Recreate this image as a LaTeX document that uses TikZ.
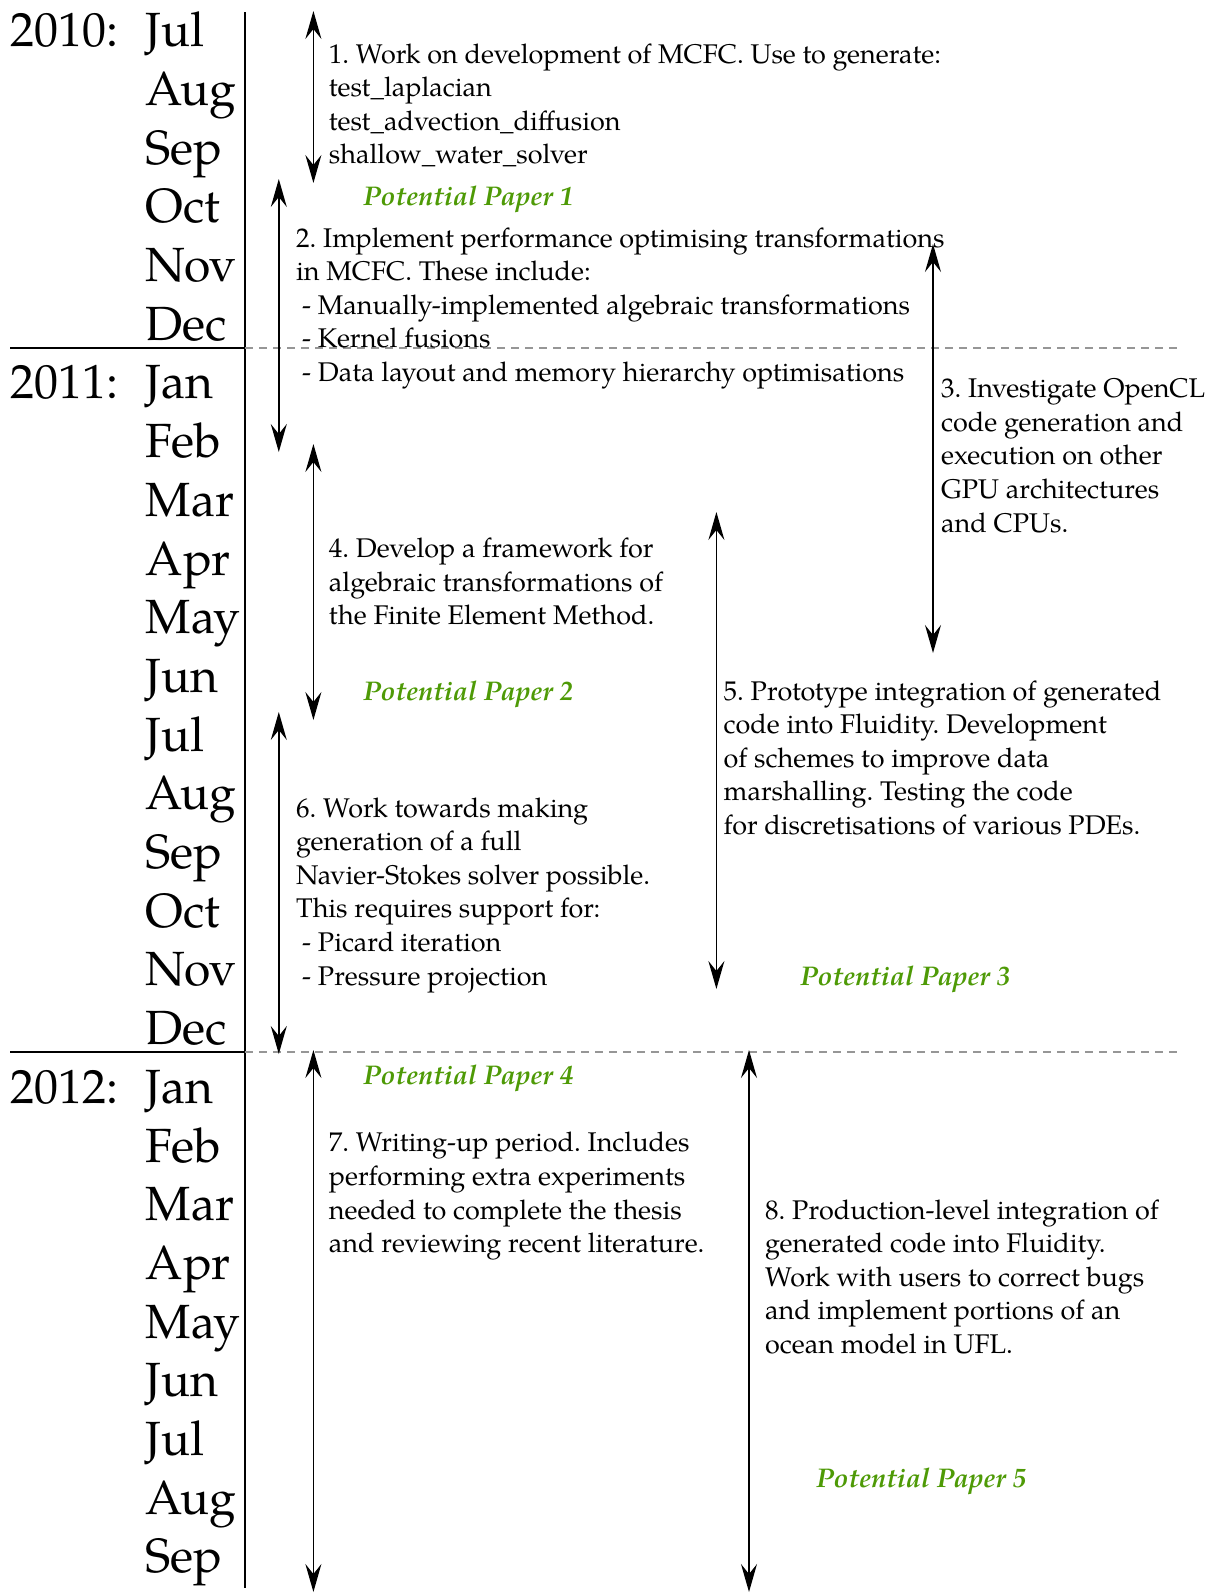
\documentclass[tikz,border=0pt]{standalone}
\usepackage{fontspec}
\setmainfont{TeX Gyre Pagella}
\usetikzlibrary{arrows.meta}
\definecolor{ppgreen}{RGB}{78,154,6}
\definecolor{dashgrey}{RGB}{150,150,150}
\frenchspacing
\begin{document}
\begin{tikzpicture}[x=1pt,y=-1pt,
  month/.style={anchor=base west,inner sep=0pt,font=\fontsize{48}{58}\selectfont},
  body/.style={anchor=base west,inner sep=0pt,font=\fontsize{27}{33.6}\selectfont\frenchspacing},
  paper/.style={anchor=base west,inner sep=0pt,text=ppgreen,font=\fontsize{27}{33.6}\selectfont\bfseries\itshape},
  tip/.tip={Stealth[length=28pt,width=16pt,inset=10pt]},
  span/.style={tip-tip,line width=1.5pt},
  axis/.style={line width=1.5pt},
  yearsep/.style={dashgrey,line width=1.2pt,dash pattern=on 8pt off 6pt}]
\useasboundingbox (0,0) rectangle (1216,1596);
% axis
\coordinate (axtop) at (245,12);
\coordinate (axbot) at (245,1588);
\draw[axis] (axtop) -- (axbot);
\coordinate (s1l) at (10,348); \coordinate (s1m) at (245,348); \coordinate (s1r) at (1180,348);
\coordinate (s2l) at (10,1052); \coordinate (s2m) at (245,1052); \coordinate (s2r) at (1180,1052);
\draw[axis] (s1l) -- (s1m);
\draw[axis] (s2l) -- (s2m);
\draw[yearsep] (s1m) -- (s1r);
\draw[yearsep] (s2m) -- (s2r);
% years
\node[month] (y2010) at (10,46.7) {2010:};
\node[month] (y2011) at (10,398.9) {2011:};
\node[month] (y2012) at (10,1103.3) {2012:};
% months
\foreach \m [count=\k from 0] in {Jul,Aug,Sep,Oct,Nov,Dec,Jan,Feb,Mar,Apr,May,Jun,Jul,Aug,Sep,Oct,Nov,Dec,Jan,Feb,Mar,Apr,May,Jun,Jul,Aug,Sep}
  \node[month] (m\k) at (145.5,46.7+58.7*\k) {\m};
% arrows
\coordinate (a1t) at (313.4,11);  \coordinate (a1b) at (313.4,183);
\coordinate (a2t) at (278.8,179); \coordinate (a2b) at (278.8,452);
\coordinate (a3t) at (933,244);   \coordinate (a3b) at (933,653);
\coordinate (a4t) at (313.4,444); \coordinate (a4b) at (313.4,720);
\coordinate (a5t) at (716.4,512); \coordinate (a5b) at (716.4,989);
\coordinate (a6t) at (278.8,712); \coordinate (a6b) at (278.8,1054);
\coordinate (a7t) at (313.4,1050);\coordinate (a7b) at (313.4,1592);
\coordinate (a8t) at (749,1050);  \coordinate (a8b) at (749,1592);
\foreach \a in {1,...,8} \draw[span] (a\a t) -- (a\a b);
% task 1
\node[body] (t1a) at (328.7,63) {1. Work on development of MCFC. Use to generate:};
\node[body] (t1b) at (328.7,96.6) {test\_laplacian};
\node[body] (t1c) at (328.7,130.2) {test\_advection\_diffusion};
\node[body] (t1d) at (328.7,163.8) {shallow\_water\_solver};
\node[paper] (pp1) at (363,205) {Potential Paper 1};
% task 2
\node[body] (t2a) at (296,247) {2. Implement performance optimising transformations};
\node[body] (t2b) at (296,280.6) {in MCFC. These include:};
\node[body] (t2c) at (302,314.2) {- Manually-implemented algebraic transformations};
\node[body] (t2d) at (302,347.8) {- Kernel fusions};
\node[body] (t2e) at (302,381.4) {- Data layout and memory hierarchy optimisations};
% task 3
\node[body] (t3a) at (941,397.7) {3. Investigate OpenCL};
\node[body] (t3b) at (941,431.3) {code generation and};
\node[body] (t3c) at (941,464.9) {execution on other};
\node[body] (t3d) at (941,498.5) {GPU architectures};
\node[body] (t3e) at (941,532.1) {and CPUs.};
% task 4
\node[body] (t4a) at (328.7,557.5) {4. Develop a framework for};
\node[body] (t4b) at (328.7,591.1) {algebraic transformations of};
\node[body] (t4c) at (328.7,624.7) {the Finite Element Method.};
\node[paper] (pp2) at (363,700) {Potential Paper 2};
% task 5
\node[body] (t5a) at (723.5,700) {5. Prototype integration of generated};
\node[body] (t5b) at (723.5,733.6) {code into Fluidity. Development};
\node[body] (t5c) at (723.5,767.2) {of schemes to improve data};
\node[body] (t5d) at (723.5,800.8) {marshalling. Testing the code};
\node[body] (t5e) at (723.5,834.4) {for discretisations of various PDEs.};
% task 6
\node[body] (t6a) at (296,817) {6. Work towards making};
\node[body] (t6b) at (296,850.6) {generation of a full};
\node[body] (t6c) at (296,884.2) {Navier-Stokes solver possible.};
\node[body] (t6d) at (296,917.8) {This requires support for:};
\node[body] (t6e) at (302,951.4) {- Picard iteration};
\node[body] (t6f) at (302,985) {- Pressure projection};
\node[paper] (pp3) at (800,985) {Potential Paper 3};
% task 7
\node[paper] (pp4) at (363,1084.6) {Potential Paper 4};
\node[body] (t7a) at (328.7,1151.8) {7. Writing-up period. Includes};
\node[body] (t7b) at (328.7,1185.4) {performing extra experiments};
\node[body] (t7c) at (328.7,1219) {needed to complete the thesis};
\node[body] (t7d) at (328.7,1252.6) {and reviewing recent literature.};
% task 8
\node[body] (t8a) at (765,1219) {8. Production-level integration of};
\node[body] (t8b) at (765,1252.6) {generated code into Fluidity.};
\node[body] (t8c) at (765,1286.2) {Work with users to correct bugs};
\node[body] (t8d) at (765,1319.8) {and implement portions of an};
\node[body] (t8e) at (765,1353.4) {ocean model in UFL.};
\node[paper] (pp5) at (816,1487.6) {Potential Paper 5};
\end{tikzpicture}
\end{document}
